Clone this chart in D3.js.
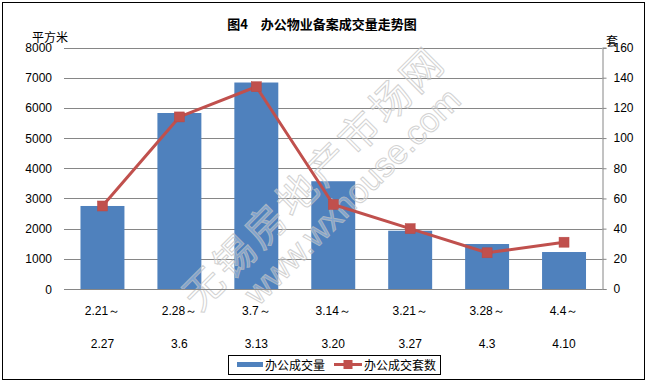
<!DOCTYPE html>
<html><head><meta charset="utf-8">
<script src="https://cdn.jsdelivr.net/npm/d3@7"></script>
<style>body{margin:0;background:#fff}svg{display:block}</style>
</head><body>
<script>
const categoriesTop = ["2.21～","2.28～","3.7～","3.14～","3.21～","3.28～","4.4～"];
const categoriesBottom = ["2.27","3.6","3.13","3.20","3.27","4.3","4.10"];
const areaValues = [2750, 5830, 6840, 3570, 1930, 1490, 1225];
const countValues = [55, 114, 134, 56, 40, 24, 31];
const leftTicks = [0,1000,2000,3000,4000,5000,6000,7000,8000];
const rightTicks = [0,20,40,60,80,100,120,140,160];
const seriesNames = ["办公成交量","办公成交套数"];
const titleText = "图4　办公物业备案成交量走势图";

const W=647,H=383;
const svg=d3.select("body").append("svg").attr("width",W).attr("height",H);
const font="'Liberation Sans', Arial, sans-serif";
const cjk="'Noto Sans CJK SC', sans-serif";
svg.append("rect").attr("x",2.5).attr("y",2.5).attr("width",642).attr("height",377)
  .attr("fill","#fff").attr("stroke","#000").attr("stroke-width",1);

const L=64,R=602.5,T=47.5,B=289;
const x=d3.scaleBand().domain(d3.range(categoriesTop.length)).range([L,R]).paddingInner(0.4286).paddingOuter(0.2143);
const yL=d3.scaleLinear().domain([0,8000]).range([B,T]);
const yR=d3.scaleLinear().domain([0,160]).range([B,T]);

// gridlines
svg.append("g").selectAll("line").data(leftTicks).join("line")
  .attr("x1",L).attr("x2",R).attr("y1",d=>Math.round(yL(d))+0.5).attr("y2",d=>Math.round(yL(d))+0.5)
  .attr("stroke","#868686").attr("stroke-width",1);

// left labels
svg.append("g").selectAll("text").data(leftTicks).join("text")
  .attr("x",52).attr("y",d=>yL(d)+4.5).attr("text-anchor","end")
  .attr("font-family",font).attr("font-size",12).text(d=>d);

// right axis
const ra=svg.append("g").attr("transform",`translate(${R},0)`)
  .call(d3.axisRight(yR).tickValues(rightTicks).tickSize(4).tickPadding(7).tickFormat(d=>d));
ra.selectAll("path,line").attr("stroke","#868686");
ra.select(".domain").attr("d",`M4,${Math.round(T)+0.5}H0.5V${B+0.5}H4`);
ra.selectAll("text").attr("font-family",font).attr("font-size",12).attr("fill","#000");

// bars
svg.append("g").selectAll("rect").data(areaValues).join("rect")
  .attr("x",(d,i)=>x(i)).attr("width",x.bandwidth())
  .attr("y",d=>yL(d)).attr("height",d=>B-yL(d)).attr("fill","#4F81BD");

// watermark
const wm=svg.append("g").attr("opacity",0.75);
wm.append("text").attr("transform","translate(312,176) rotate(-45)")
  .attr("text-anchor","middle").attr("dominant-baseline","central")
  .attr("font-family",cjk).attr("font-size",40).attr("letter-spacing",4)
  .attr("fill","#ffffff").attr("fill-opacity",0.4).attr("stroke","#c4c4c4").attr("stroke-width",1)
  .text("无锡房地产市场网");
wm.append("text").attr("transform","translate(352,196) rotate(-45)")
  .attr("text-anchor","middle").attr("dominant-baseline","central")
  .attr("font-family",font).attr("font-size",34)
  .attr("fill","#ffffff").attr("fill-opacity",0.4).attr("stroke","#c4c4c4").attr("stroke-width",1)
  .text("www.wxhouse.com");

// bottom axis line
svg.append("line").attr("x1",L).attr("x2",R).attr("y1",B+0.5).attr("y2",B+0.5).attr("stroke","#868686");

// line series
const cx=i=>x(i)+x.bandwidth()/2;
svg.append("path").datum(countValues)
  .attr("d",d3.line().x((d,i)=>cx(i)).y(d=>yR(d)))
  .attr("fill","none").attr("stroke","#C0504D").attr("stroke-width",3).attr("stroke-linejoin","round");
svg.append("g").selectAll("rect").data(countValues).join("rect")
  .attr("x",(d,i)=>cx(i)-5).attr("y",d=>yR(d)-5).attr("width",10).attr("height",10)
  .attr("fill","#C0504D").attr("stroke","#B84A47").attr("stroke-width",0.5);

// x labels
svg.append("g").selectAll("text").data(categoriesTop).join("text")
  .attr("x",(d,i)=>cx(i)).attr("y",315).attr("text-anchor","middle")
  .attr("font-family",font).attr("font-size",12).text(d=>d);
svg.append("g").selectAll("text").data(categoriesBottom).join("text")
  .attr("x",(d,i)=>cx(i)).attr("y",348).attr("text-anchor","middle")
  .attr("font-family",font).attr("font-size",12).text(d=>d);

// titles
svg.append("text").attr("x",322).attr("y",29).attr("text-anchor","middle")
  .attr("font-family",cjk).attr("font-weight","bold").attr("font-size",13).text(titleText);
svg.append("text").attr("x",32).attr("y",42).attr("font-family",cjk).attr("font-size",12).text("平方米");
svg.append("text").attr("x",606).attr("y",46).attr("font-family",cjk).attr("font-size",12).text("套");

// legend
const lg=svg.append("g");
lg.append("rect").attr("x",228.5).attr("y",355.5).attr("width",212).attr("height",19)
  .attr("fill","#fff").attr("stroke","#000");
lg.append("rect").attr("x",237).attr("y",362).attr("width",26).attr("height",5).attr("fill","#4F81BD");
lg.append("text").attr("x",265).attr("y",369.5).attr("font-family",cjk).attr("font-size",12).text(seriesNames[0]);
lg.append("line").attr("x1",334).attr("x2",362).attr("y1",364.5).attr("y2",364.5).attr("stroke","#C0504D").attr("stroke-width",3);
lg.append("rect").attr("x",343.5).attr("y",360).attr("width",9).attr("height",9).attr("fill","#C0504D");
lg.append("text").attr("x",364).attr("y",369.5).attr("font-family",cjk).attr("font-size",12).text(seriesNames[1]);
</script>
</body></html>
